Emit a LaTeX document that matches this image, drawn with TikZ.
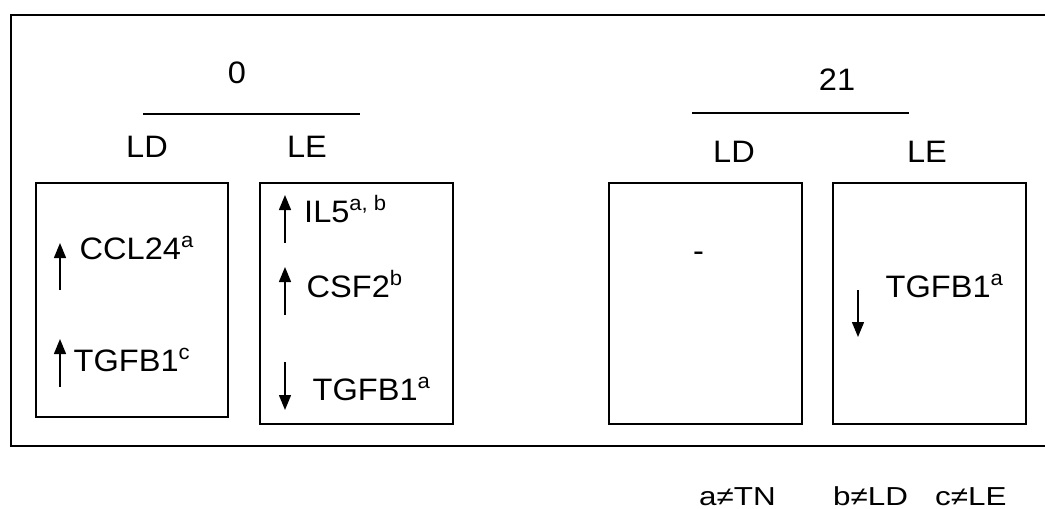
\documentclass[tikz,border=0pt]{standalone}
\usepackage{fontspec}
\setmainfont{Liberation Sans}[FakeStretch=1.05]
\usetikzlibrary{arrows.meta}
\newcommand{\supr}[1]{\raisebox{12pt}{\fontsize{21}{21}\selectfont #1}}
\tikzset{
  lbl/.style={inner sep=0pt, font=\fontsize{31}{31}\selectfont},
  gene/.style={lbl, anchor=base west},
  head/.style={lbl, anchor=base},
  panel/.style={draw, line width=1.5pt},
  rule/.style={line width=1.3pt},
  trend/.style={line width=1.4pt, -{Triangle[width=12pt,length=15pt]}},
  note/.style={inner sep=0pt, text depth=0pt, anchor=base west, font=\fontsize{26}{26}\selectfont}
}
\begin{document}
\begin{tikzpicture}[x=1pt,y=-1pt]
\useasboundingbox (0,0) rectangle (1045,509);

% outer frame, open on the right
\draw[line width=2pt] (1046,15) -- (11,15) -- (11,446) -- (1046,446);

% time point 0
\node[head] (t0) at (237,83) {0};
\coordinate (t0l) at (143,114);
\coordinate (t0r) at (360,114);
\draw[rule] (t0l) -- (t0r);
\node[head] (t0ld) at (147,157) {LD};
\node[head] (t0le) at (307,157) {LE};

% time point 21
\node[head] (t21) at (837,90) {21};
\coordinate (t21l) at (692,113);
\coordinate (t21r) at (909,113);
\draw[rule] (t21l) -- (t21r);
\node[head] (t21ld) at (734,162) {LD};
\node[head] (t21le) at (927,162) {LE};

% panels
\draw[panel] (36,183) rectangle (228,417);
\draw[panel] (260,183) rectangle (453,424);
\draw[panel] (609,183) rectangle (802,424);
\draw[panel] (833,183) rectangle (1026,424);

% day 0, LD
\coordinate (a1s) at (60,290); \coordinate (a1e) at (60,243);
\draw[trend] (a1s) -- (a1e);
\node[gene] (ccl24) at (79.5,259) {CCL24\supr{a}};
\coordinate (a2s) at (60,387); \coordinate (a2e) at (60,339);
\draw[trend] (a2s) -- (a2e);
\node[gene] (tgfbA) at (73.5,371) {TGFB1\supr{c}};

% day 0, LE
\coordinate (a3s) at (285,243); \coordinate (a3e) at (285,195);
\draw[trend] (a3s) -- (a3e);
\node[gene] (il5) at (304,222) {IL5\supr{a, b}};
\coordinate (a4s) at (285,315); \coordinate (a4e) at (285,267);
\draw[trend] (a4s) -- (a4e);
\node[gene] (csf2) at (306.5,297) {CSF2\supr{b}};
\coordinate (a5s) at (285,362); \coordinate (a5e) at (285,410);
\draw[trend] (a5s) -- (a5e);
\node[gene] (tgfbB) at (312.5,400) {TGFB1\supr{a}};

% day 21, LD
\node[gene] (none) at (693,261.5) {-};

% day 21, LE
\coordinate (a6s) at (858,290); \coordinate (a6e) at (858,337);
\draw[trend] (a6s) -- (a6e);
\node[gene] (tgfbC) at (885.5,297) {TGFB1\supr{a}};

% footnotes
\node[note] (fa) at (699,505) {\scalebox{1.15}[1]{a≠TN}};
\node[note] (fb) at (833,505) {\scalebox{1.15}[1]{b≠LD}};
\node[note] (fc) at (935,505) {\scalebox{1.15}[1]{c≠LE}};
\end{tikzpicture}
\end{document}
